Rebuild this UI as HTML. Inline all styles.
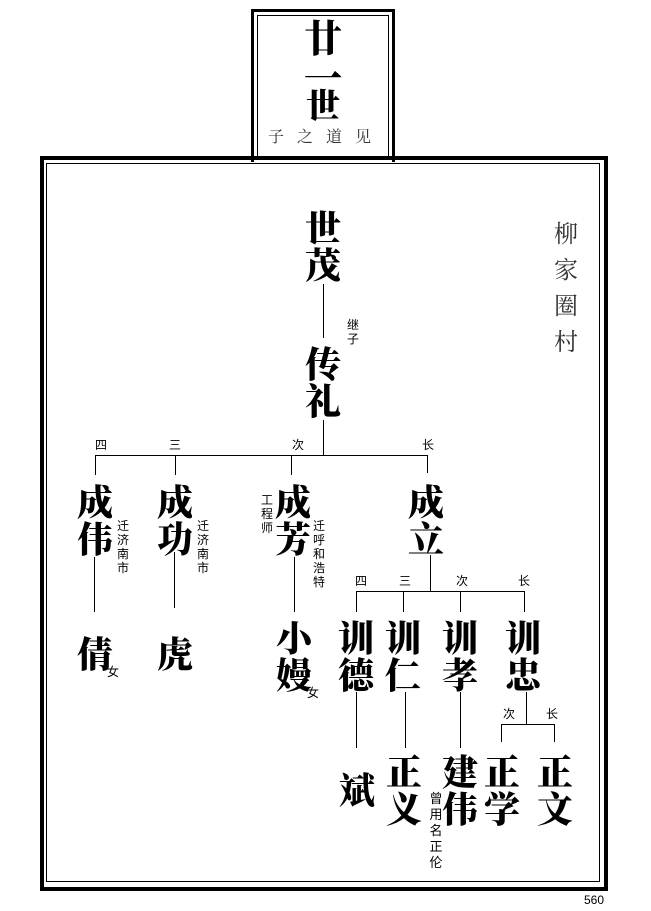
<!DOCTYPE html>
<html><head><meta charset="utf-8"><style>
body{margin:0;background:#fff;}
#c{position:relative;width:651px;height:911px;overflow:hidden;background:#fff;}
.b{position:absolute;font-family:"Noto Serif CJK SC","Liberation Serif",serif;font-weight:900;font-size:36px;line-height:37px;width:40px;text-align:center;color:#000;}
.s{position:absolute;font-family:"Noto Sans CJK SC","Liberation Sans",sans-serif;font-size:12px;line-height:14px;width:14px;text-align:center;color:#000;}
.l{position:absolute;background:#000;}
</style></head><body><div id="c">
<!-- top box -->
<div style="position:absolute;left:251px;top:9px;width:138px;height:150px;border:3px solid #000;border-bottom:none;"></div>
<div style="position:absolute;left:257px;top:15px;width:130px;height:144px;border:1px solid #000;border-bottom:none;"></div>
<div class="b" style="left:303px;top:16px;font-size:38px;line-height:40px;">廿</div>
<div class="b" style="left:303px;top:56px;font-size:38px;line-height:40px;">一</div>
<div class="b" style="left:303px;top:84px;font-size:34px;line-height:40px;">世</div>
<div style="position:absolute;left:268px;top:124px;width:120px;font-family:'Noto Serif CJK SC',serif;font-size:16px;letter-spacing:13px;color:#333;">子之道见</div>
<!-- main box -->
<div style="position:absolute;left:40px;top:156px;width:560px;height:727px;border:4px solid #000;"></div>
<div style="position:absolute;left:46px;top:163px;width:552px;height:717px;border:1px solid #000;"></div>
<div style="position:absolute;left:554px;top:214px;width:28px;font-family:'Noto Serif CJK SC',serif;font-size:24px;line-height:36px;color:#333;">柳家圈村</div>
<div style="position:absolute;left:584px;top:893px;font-family:'Liberation Sans',sans-serif;font-size:12px;">560</div>

<div class="b" style="left:303px;top:208px;">世茂</div>
<div class="l" style="left:323px;top:284px;width:1px;height:54px;"></div>
<div class="s" style="left:346px;top:318px;">继子</div>
<div class="b" style="left:303px;top:344px;">传礼</div>
<div class="l" style="left:323px;top:420px;width:1px;height:35px;"></div>
<div class="l" style="left:95px;top:455px;width:333px;height:1px;"></div>
<div class="s" style="left:94px;top:438px;">四</div>
<div class="s" style="left:168px;top:438px;">三</div>
<div class="s" style="left:291px;top:438px;">次</div>
<div class="s" style="left:421px;top:438px;">长</div>
<div class="l" style="left:95px;top:455px;width:1px;height:20px;"></div>
<div class="l" style="left:175px;top:455px;width:1px;height:20px;"></div>
<div class="l" style="left:291px;top:455px;width:1px;height:20px;"></div>
<div class="l" style="left:427px;top:455px;width:1px;height:18px;"></div>

<div class="b" style="left:75px;top:482px;">成伟</div>
<div class="s" style="left:116px;top:519px;">迁济南市</div>
<div class="l" style="left:94px;top:557px;width:1px;height:55px;"></div>
<div class="b" style="left:75px;top:634px;">倩</div>
<div class="s" style="left:106px;top:665px;">女</div>

<div class="b" style="left:155px;top:482px;">成功</div>
<div class="s" style="left:196px;top:519px;">迁济南市</div>
<div class="l" style="left:174px;top:552px;width:1px;height:56px;"></div>
<div class="b" style="left:155px;top:634px;">虎</div>

<div class="b" style="left:273px;top:482px;">成芳</div>
<div class="s" style="left:260px;top:493px;">工程师</div>
<div class="s" style="left:312px;top:519px;">迁呼和浩特</div>
<div class="l" style="left:294px;top:557px;width:1px;height:55px;"></div>
<div class="b" style="left:274px;top:618px;">小嫚</div>
<div class="s" style="left:306px;top:686px;">女</div>

<div class="b" style="left:406px;top:482px;">成立</div>
<div class="l" style="left:430px;top:555px;width:1px;height:37px;"></div>
<div class="l" style="left:356px;top:591px;width:169px;height:1px;"></div>
<div class="s" style="left:354px;top:574px;">四</div>
<div class="s" style="left:398px;top:574px;">三</div>
<div class="s" style="left:455px;top:574px;">次</div>
<div class="s" style="left:517px;top:574px;">长</div>
<div class="l" style="left:356px;top:591px;width:1px;height:21px;"></div>
<div class="l" style="left:403px;top:591px;width:1px;height:21px;"></div>
<div class="l" style="left:460px;top:591px;width:1px;height:21px;"></div>
<div class="l" style="left:524px;top:591px;width:1px;height:21px;"></div>

<div class="b" style="left:336px;top:618px;">训德</div>
<div class="b" style="left:383px;top:618px;">训仁</div>
<div class="b" style="left:440px;top:618px;">训孝</div>
<div class="b" style="left:503px;top:618px;">训忠</div>
<div class="l" style="left:356px;top:692px;width:1px;height:56px;"></div>
<div class="l" style="left:405px;top:692px;width:1px;height:56px;"></div>
<div class="l" style="left:460px;top:692px;width:1px;height:56px;"></div>
<div class="l" style="left:526px;top:692px;width:1px;height:32px;"></div>
<div class="l" style="left:501px;top:724px;width:54px;height:1px;"></div>
<div class="l" style="left:501px;top:724px;width:1px;height:18px;"></div>
<div class="l" style="left:554px;top:724px;width:1px;height:18px;"></div>
<div class="s" style="left:502px;top:707px;">次</div>
<div class="s" style="left:545px;top:707px;">长</div>

<div class="b" style="left:337px;top:770px;">斌</div>
<div class="b" style="left:384px;top:752px;">正义</div>
<div class="b" style="left:440px;top:752px;">建伟</div>
<div class="s" style="left:429px;top:790px;font-size:13px;line-height:16px;">曾用名正伦</div>
<div class="b" style="left:482px;top:752px;">正学</div>
<div class="b" style="left:535px;top:752px;">正文</div>
</div></body></html>
